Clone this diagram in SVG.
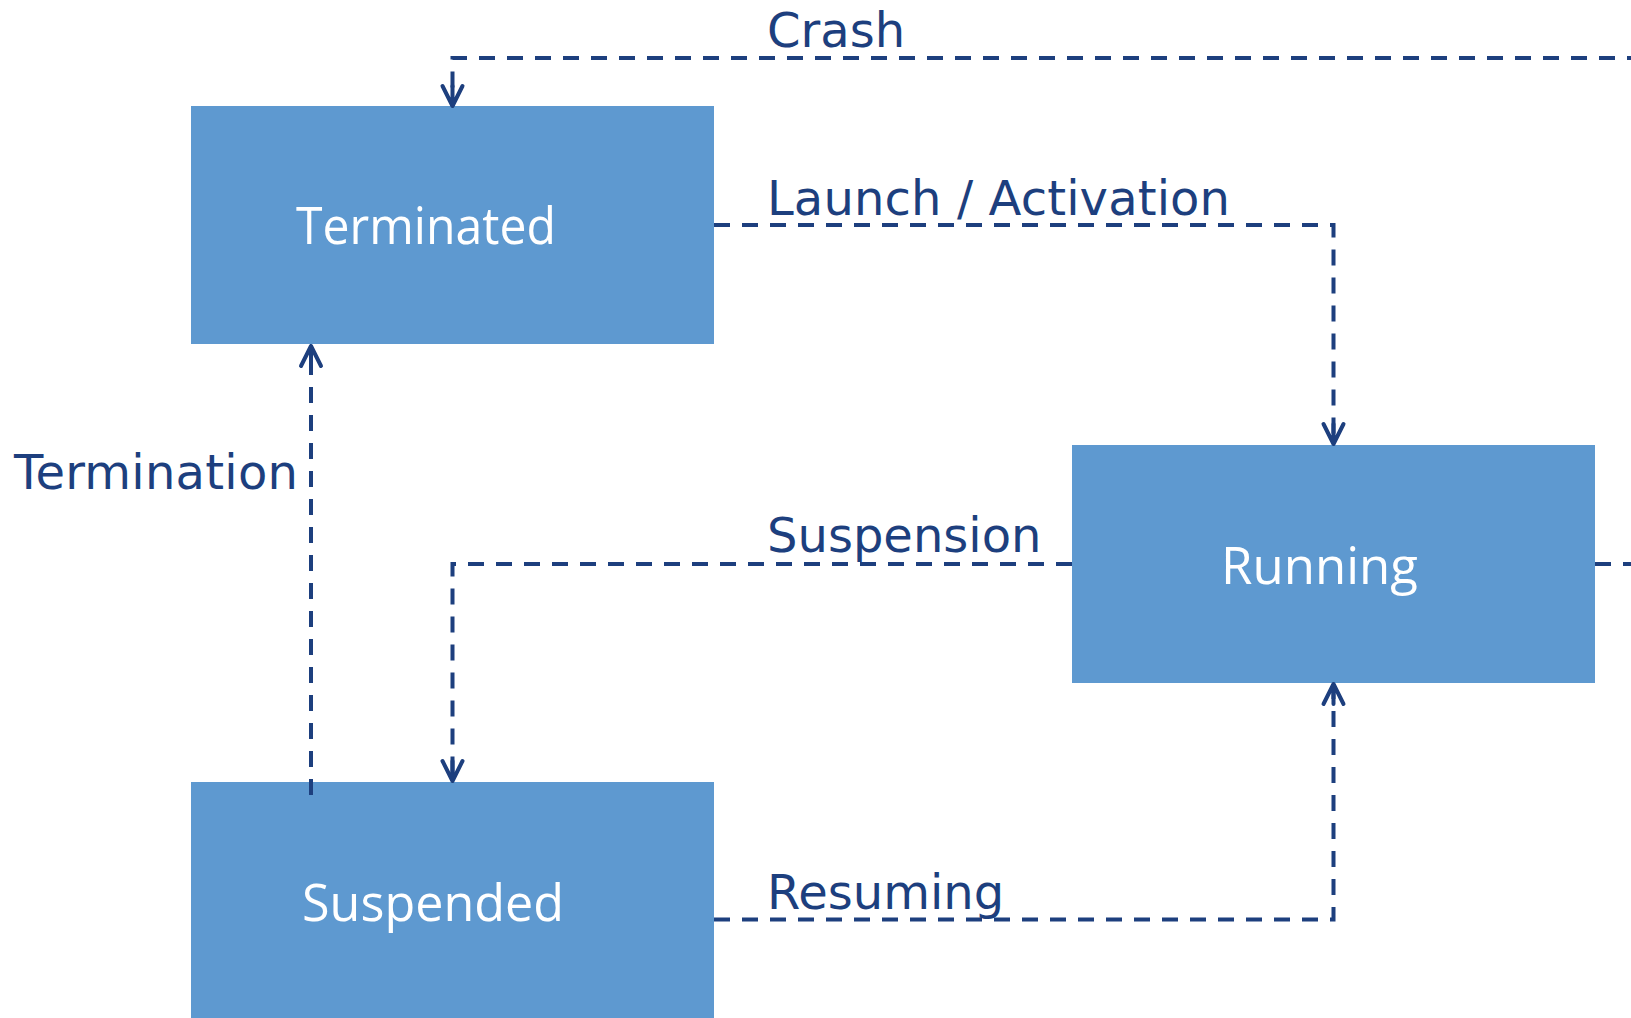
<svg xmlns="http://www.w3.org/2000/svg" width="1631" height="1018" viewBox="0 0 1631 1018">
  <style>
    .state rect { fill: #5E99D0; }
    .state text { fill: #FFFFFF; font-family: "Open Sans", "Noto Sans", sans-serif; font-size: 52px; }
    .edge { fill: none; stroke: #1D3F7E; stroke-width: 4; stroke-dasharray: 16 12; }
    .label { fill: #1D3F7E; font-family: "DejaVu Sans", "Liberation Sans", sans-serif; font-size: 48px; }
  </style>
  <defs>
    <marker id="arrow" markerUnits="userSpaceOnUse" viewBox="-24 -14 28 28" markerWidth="28" markerHeight="28" refX="0" refY="0" orient="auto">
      <path d="M -20 -10 L 0 0 L -20 10 M -20 0 L 0 0" fill="none" stroke="#1D3F7E" stroke-width="4" stroke-linecap="round" stroke-linejoin="round"/>
    </marker>
  </defs>
  <rect width="1631" height="1018" fill="#FFFFFF"/>

  <g id="node-terminated" class="state">
    <rect x="191" y="106" width="523" height="238"/>
    <text x="296" y="244" textLength="260" lengthAdjust="spacingAndGlyphs">Terminated</text>
  </g>
  <g id="node-running" class="state">
    <rect x="1072" y="445" width="523" height="238"/>
    <text x="1221" y="584" textLength="197" lengthAdjust="spacingAndGlyphs">Running</text>
  </g>
  <g id="node-suspended" class="state">
    <rect x="191" y="782" width="523" height="260"/>
    <text x="302" y="921" textLength="262" lengthAdjust="spacingAndGlyphs">Suspended</text>
  </g>

  <g id="connectors">
    <!-- crash: leaves Running on the right, loops over the top into Terminated -->
    <path class="edge" d="M 1595 564 H 1660 V 58 H 452.5 V 106" marker-end="url(#arrow)"/>
    <path class="edge" d="M 714 225 H 1333.5 V 444" marker-end="url(#arrow)"/>
    <path class="edge" d="M 1072 564 H 452.5 V 781" marker-end="url(#arrow)"/>
    <path class="edge" d="M 714 919.5 H 1333.5 V 684" marker-end="url(#arrow)"/>
    <path class="edge" d="M 311 795 V 346" marker-end="url(#arrow)"/>
  </g>

  <g id="labels">
    <text class="label" x="767" y="47">Crash</text>
    <text class="label" x="767" y="215" textLength="463">Launch / Activation</text>
    <text class="label" x="767" y="552">Suspension</text>
    <text class="label" x="767" y="909">Resuming</text>
    <text class="label" x="14" y="489" textLength="284">Termination</text>
  </g>
</svg>
